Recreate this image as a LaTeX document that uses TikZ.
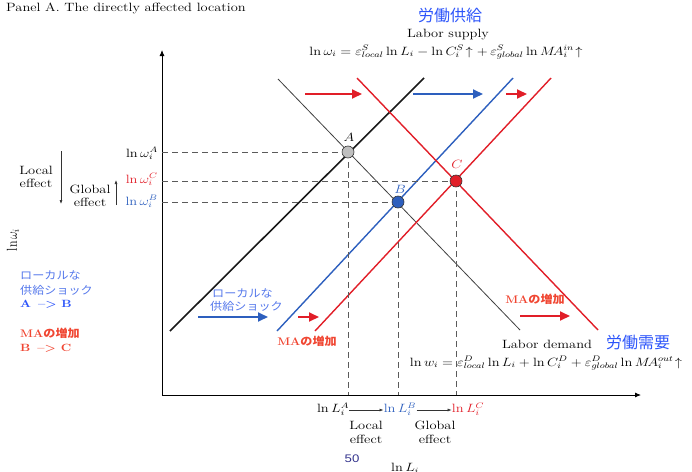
\documentclass[tikz,border=0pt]{standalone}
\usepackage{fontspec}
\newfontfamily\jp{Noto Sans CJK JP}
\newfontfamily\arialf{Liberation Sans}
\usetikzlibrary{arrows.meta}
\definecolor{redl}{RGB}{225,30,40}
\definecolor{bluel}{RGB}{45,95,190}
\definecolor{jpblue}{RGB}{45,85,250}
\definecolor{ltblue}{RGB}{85,120,235}
\definecolor{redt}{RGB}{240,70,50}
\definecolor{navy}{RGB}{50,50,140}
\definecolor{dashg}{RGB}{90,90,90}
\begin{document}
\begin{tikzpicture}[x=1pt,y=-1pt,
  lbl/.style={inner sep=0pt, font=\fontsize{12}{14}\selectfont, xscale=1.2},
  jpl/.style={inner sep=0pt, font=\jp\fontsize{11}{13}\selectfont, xscale=1.1},
  jptitle/.style={inner sep=0pt, font=\jp\fontsize{16}{18}\selectfont, text=jpblue},
  axis/.style={line width=0.8pt, -{Latex[length=6pt,width=5pt]}},
  dashln/.style={dashg, line width=0.8pt, dash pattern=on 6pt off 4pt},
  shock/.style={line width=1.8pt, -{Triangle[length=10pt,width=9pt]}},
  pt/.style={circle, draw=black!80, line width=0.6pt, minimum size=12pt, inner sep=0pt},
  small/.style={line width=0.6pt, black!80, -{Latex[length=4pt,width=3pt]}}
]
\useasboundingbox (0,0) rectangle (692,471);

% axes
\coordinate (O) at (162,395);
\coordinate (ytop) at (162,50);
\coordinate (xend) at (641,395);
\draw[axis] (O) -- (ytop);
\draw[axis] (O) -- (xend);

% curves
\coordinate (s0a) at (170,331); \coordinate (s0b) at (424,78);
\coordinate (d0a) at (278,79);  \coordinate (d0b) at (520,330);
\coordinate (s1a) at (277,331); \coordinate (s1b) at (513,78);
\coordinate (s2a) at (315,331); \coordinate (s2b) at (551,78);
\coordinate (d1a) at (357,78);  \coordinate (d1b) at (598,330);
\draw[line width=1.6pt, black!90] (s0a) -- (s0b);
\draw[line width=0.8pt, black!75] (d0a) -- (d0b);
\draw[line width=1.4pt, bluel] (s1a) -- (s1b);
\draw[line width=1.4pt, redl] (s2a) -- (s2b);
\draw[line width=1.4pt, redl] (d1a) -- (d1b);

% equilibrium points
\coordinate (pA) at (348,152);
\coordinate (pB) at (398,202);
\coordinate (pC) at (456,181);
\coordinate (yA) at (162,152); \coordinate (yB) at (162,202); \coordinate (yC) at (162,181);
\coordinate (xA) at (348,395); \coordinate (xB) at (398,395); \coordinate (xC) at (456,395);
\draw[dashln] (yA) -- (pA); \draw[dashln] (yC) -- (pC); \draw[dashln] (yB) -- (pB);
\draw[dashln] (pA) -- (xA); \draw[dashln] (pB) -- (xB); \draw[dashln] (pC) -- (xC);
\node[pt, fill=black!25] (A) at (pA) {};
\node[pt, fill=bluel] (B) at (pB) {};
\node[pt, fill=redl] (C) at (pC) {};
\node[lbl] (lA) at (349,137) {$A$};
\node[lbl, text=bluel] (lB) at (400,189) {$B$};
\node[lbl, text=redl] (lC) at (457,164) {$C$};

% shift arrows
\coordinate (r1a) at (305,94); \coordinate (r1b) at (362,94);
\coordinate (b1a) at (413,94); \coordinate (b1b) at (483,94);
\coordinate (r2a) at (506,94); \coordinate (r2b) at (527,94);
\coordinate (b2a) at (198,317); \coordinate (b2b) at (268,317);
\coordinate (r3a) at (298,317); \coordinate (r3b) at (319,317);
\coordinate (r4a) at (520,316); \coordinate (r4b) at (570,316);
\draw[shock, redl] (r1a) -- (r1b);
\draw[shock, bluel] (b1a) -- (b1b);
\draw[shock, redl] (r2a) -- (r2b);
\draw[shock, bluel] (b2a) -- (b2b);
\draw[shock, redl] (r3a) -- (r3b);
\draw[shock, redl] (r4a) -- (r4b);

% titles
\node[lbl, anchor=base west] (title) at (6,11) {Panel A. The directly affected location};
\node[jptitle] (jps) at (450,15) {労働供給};
\node[lbl, anchor=base] (ls) at (448,37) {Labor supply};
\node[lbl, anchor=base] (eqs) at (446,55) {$\ln\omega_i=\varepsilon^{S}_{local}\ln L_i-\ln C^{S}_i\!\uparrow+\,\varepsilon^{S}_{global}\ln M\!A^{in}_i\!\uparrow$};
\node[lbl, anchor=base] (ld) at (547,348) {Labor demand};
\node[jptitle] (jpd) at (638,342) {労働需要};
\node[lbl, anchor=base] (eqd) at (546,366) {$\ln w_i=\varepsilon^{D}_{local}\ln L_i+\ln C^{D}_i+\varepsilon^{D}_{global}\ln M\!A^{out}_i\!\uparrow$};

% y labels
\node[lbl, anchor=base east] (wA) at (158,157) {$\ln\omega^{A}_i$};
\node[lbl, anchor=base east, text=redl] (wC) at (158,183) {$\ln\omega^{C}_i$};
\node[lbl, anchor=base east, text=bluel] (wB) at (158,205) {$\ln\omega^{B}_i$};
\node[lbl, rotate=90] (ylab) at (13,240) {$\ln\omega_i$};
\node[lbl, align=center, font=\fontsize{12}{13.5}\selectfont] (le) at (36,177) {Local\\effect};
\node[lbl, align=center, font=\fontsize{12}{12.5}\selectfont] (ge) at (90,196) {Global\\effect};
\coordinate (la1) at (61,151); \coordinate (la2) at (61,204);
\coordinate (ga1) at (116,205); \coordinate (ga2) at (116,180);
\draw[small] (la1) -- (la2);
\draw[small] (ga1) -- (ga2);

% left legend
\node[jpl, anchor=west, text=ltblue] (k1) at (20,275) {ローカルな};
\node[jpl, anchor=west, text=ltblue] (k2) at (20,290) {供給ショック};
\node[lbl, anchor=west, text=jpblue, font=\bfseries\fontsize{10.5}{12}\selectfont] (k3) at (20,304) {A \,--> B};
\node[jpl, anchor=west, text=redt] (k4) at (20,333) {{\rmfamily\bfseries MA}{\bfseries の増加}};
\node[lbl, anchor=west, text=redt, font=\bfseries\fontsize{10.5}{12}\selectfont] (k5) at (20,348) {B \,--> C};

% in-plot annotations
\node[jpl, anchor=west, text=ltblue] (m1) at (212,293) {ローカルな};
\node[jpl, anchor=west, text=ltblue] (m2) at (210,306) {供給ショック};
\node[jpl, text=redt] (m3) at (307,341) {{\rmfamily\bfseries MA}{\bfseries の増加}};
\node[jpl, text=redt] (m4) at (535,299) {{\rmfamily\bfseries MA}{\bfseries の増加}};

% x labels
\node[lbl] (LA) at (333,409) {$\ln L^{A}_i$};
\node[lbl, text=bluel] (LB) at (400,409) {$\ln L^{B}_i$};
\node[lbl, text=redl] (LC) at (468,409) {$\ln L^{C}_i$};
\draw[small] (LA.east) ++(0,1) -- ([yshift=-1pt]LB.west);
\draw[small] (LB.east) ++(0,1) -- ([yshift=-1pt]LC.west);
\node[lbl, align=center, font=\fontsize{12}{14}\selectfont] (xle) at (366,432) {Local\\effect};
\node[lbl, align=center, font=\fontsize{12}{14}\selectfont] (xge) at (435,432) {Global\\effect};
\node[inner sep=0pt, font=\arialf\fontsize{11}{13}\selectfont, text=navy, xscale=1.2] (num) at (352,459) {50};
\node[lbl] (xlab) at (405,468) {$\ln L_i$};
\end{tikzpicture}
\end{document}
